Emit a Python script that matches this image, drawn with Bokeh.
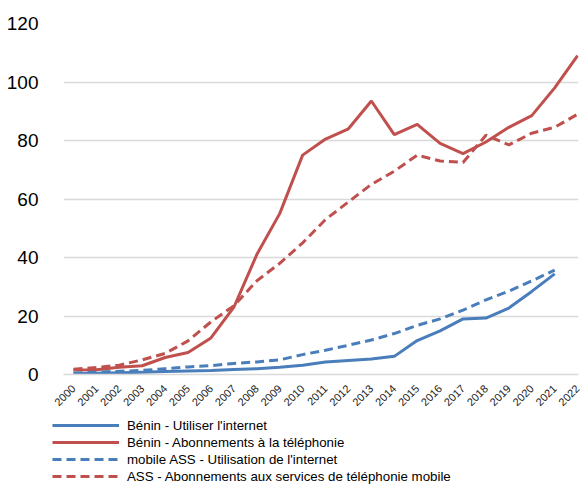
import math
from bokeh.plotting import figure
from bokeh.models import FixedTicker, Legend, LegendItem, Range1d
from bokeh.embed import file_html
from bokeh.resources import INLINE

years = list(range(2000, 2023))
tick_labels = [str(y) for y in years]

benin_internet = [0.3, 0.4, 0.6, 0.8, 1.0, 1.2, 1.4, 1.7, 2.0, 2.5, 3.2, 4.3, 4.8, 5.3, 6.2,
                  11.6, 14.9, 19.0, 19.3, 22.7, 28.4, 34.4]
benin_phone = [1.5, 1.6, 2.5, 3.0, 5.8, 7.5, 12.5, 23.0, 41.0, 55.0, 75.0, 80.5, 84.0, 93.5,
               82.0, 85.5, 79.0, 75.5, 79.5, 84.5, 88.5, 98.0, 109.0]
ass_internet = [0.5, 0.8, 1.1, 1.4, 2.0, 2.6, 3.0, 3.8, 4.3, 5.0, 6.8, 8.3, 10.0, 11.8, 14.0,
                16.8, 19.0, 22.0, 25.5, 28.5, 32.0, 35.7]
ass_phone = [1.8, 2.4, 3.2, 5.0, 7.2, 11.5, 18.0, 23.5, 32.0, 38.0, 45.0, 53.0, 59.0, 65.0,
             69.5, 75.0, 73.0, 72.5, 81.8, 78.5, 82.5, 84.5, 89.0]

labels = ["Bénin - Utiliser l'internet",
          "Bénin - Abonnements à la téléphonie",
          "mobile ASS - Utilisation de l'internet",
          "ASS - Abonnements aux services de téléphonie mobile"]
series = [benin_internet, benin_phone, ass_internet, ass_phone]

BLUE = "#4a7ebb"
RED = "#c0504d"
DASH = "9 5"
FONT = "Liberation Sans"
styles = [(BLUE, "solid"), (RED, "solid"), (BLUE, DASH), (RED, DASH)]

p = figure(width=582, height=412, output_backend="svg", toolbar_location=None,
           x_range=Range1d(1999.564, 2022.04), y_range=Range1d(0, 120),
           min_border_left=63, min_border_right=4, min_border_top=23, min_border_bottom=36)
p.outline_line_color = None
p.background_fill_color = "white"
p.xgrid.grid_line_color = None
p.ygrid.grid_line_color = "#d9d9d9"
p.ygrid.grid_line_width = 1.3

p.yaxis.ticker = FixedTicker(ticks=[0, 20, 40, 60, 80, 100, 120])
p.yaxis.axis_line_color = None
p.yaxis.major_tick_line_color = None
p.yaxis.minor_tick_line_color = None
p.yaxis.major_label_text_font = FONT
p.yaxis.major_label_text_font_size = "19px"
p.yaxis.major_label_text_color = "#000000"
p.yaxis.major_label_standoff = 19

p.xaxis.ticker = FixedTicker(ticks=years)
p.xaxis.major_label_overrides = {y: s for y, s in zip(years, tick_labels)}
p.xaxis.axis_line_color = "#d9d9d9"
p.xaxis.axis_line_width = 1.3
p.xaxis.major_tick_line_color = None
p.xaxis.minor_tick_line_color = None
p.xaxis.major_label_orientation = math.pi / 4
p.xaxis.major_label_text_font = FONT
p.xaxis.major_label_text_font_size = "11px"
p.xaxis.major_label_text_color = "#1a1a1a"
p.xaxis.major_label_standoff = 6

for vals, (col, dash) in zip(series, styles):
    p.line(years[:len(vals)], vals, line_color=col, line_width=3, line_dash=dash)

# legend panel below the chart (its lines lie outside its view; only the legend shows)
q = figure(width=582, height=72, output_backend="svg", toolbar_location=None,
           x_axis_location=None, y_axis_location=None,
           x_range=Range1d(1999.564, 2022.04), y_range=Range1d(500, 600),
           min_border_left=0, min_border_right=0, min_border_top=0, min_border_bottom=0)
q.grid.visible = False
q.outline_line_color = None
items = []
for lab, vals, (col, dash) in zip(labels, series, styles):
    r = q.line(years[:len(vals)], vals, line_color=col, line_width=3, line_dash=dash)
    items.append(LegendItem(label=lab, renderers=[r]))

legend = Legend(items=items, location=(52, 0), orientation="vertical",
                glyph_width=67, glyph_height=16, label_height=16, spacing=1,
                padding=0, margin=0, label_standoff=8,
                label_text_font=FONT, label_text_font_size="13.3px",
                label_text_color="#000000",
                border_line_alpha=0, background_fill_alpha=0)
q.add_layout(legend, "center")

open("out.html", "w").write(file_html([p, q], INLINE))
